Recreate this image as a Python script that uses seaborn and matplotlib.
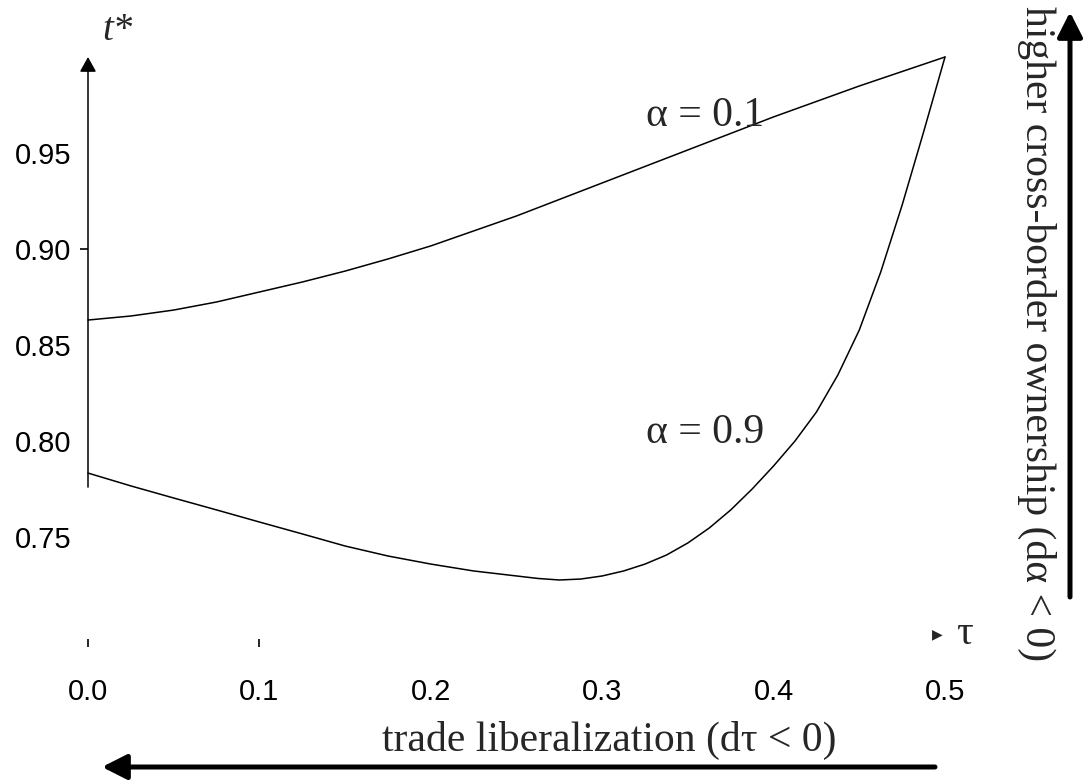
import numpy as np
import pandas as pd
import matplotlib
matplotlib.use("Agg")
import matplotlib.pyplot as plt
import seaborn as sns

# ---- data ----
tau_a01 = [0.0, 0.025, 0.05, 0.075, 0.10, 0.125, 0.15, 0.175, 0.20, 0.25,
           0.30, 0.35, 0.40, 0.45, 0.50]
t_a01 = [0.8630, 0.8651, 0.8682, 0.8724, 0.8776, 0.8828, 0.8885, 0.8948, 0.9016,
         0.9172, 0.9344, 0.9516, 0.9688, 0.9849, 1.000]

tau_a09 = [0.0, 0.025, 0.05, 0.075, 0.10, 0.125, 0.15, 0.175, 0.20, 0.225, 0.25,
           0.2625, 0.275, 0.2875, 0.30, 0.3125, 0.325, 0.3375, 0.35, 0.3625,
           0.375, 0.3875, 0.40, 0.4125, 0.425, 0.4375, 0.45, 0.4625, 0.475,
           0.4875, 0.50]
t_a09 = [0.7833, 0.7766, 0.7703, 0.7641, 0.7578, 0.7516, 0.7453, 0.7401, 0.7359,
         0.7323, 0.7297, 0.7284, 0.7276, 0.7281, 0.7297, 0.7323, 0.7359, 0.7406,
         0.7469, 0.7547, 0.7641, 0.7750, 0.7870, 0.8000, 0.8151, 0.8344, 0.8578,
         0.8880, 0.9229, 0.9609, 1.000]

series_names = ["α = 0.1", "α = 0.9"]
x_ticks = [0.0, 0.1, 0.2, 0.3, 0.4, 0.5]
x_ticklabels = ["0.0", "0.1", "0.2", "0.3", "0.4", "0.5"]
y_ticks = [0.75, 0.80, 0.85, 0.90, 0.95]
y_ticklabels = ["0.75", "0.80", "0.85", "0.90", "0.95"]

df = pd.concat([
    pd.DataFrame({"tau": tau_a01, "t": t_a01, "alpha": series_names[0]}),
    pd.DataFrame({"tau": tau_a09, "t": t_a09, "alpha": series_names[1]}),
], ignore_index=True)

sns.set_theme(style="white")
plt.rcParams["font.family"] = ["Liberation Sans", "DejaVu Sans"]

W, H = 1084, 783
fig = plt.figure(figsize=(W / 100, H / 100), dpi=100)
ax = fig.add_axes([88 / W, 1 - 647 / H, (945 - 88) / W, (647 - 57) / H])

sns.lineplot(data=df, x="tau", y="t", hue="alpha", palette=["black", "black"],
             legend=False, ax=ax, linewidth=1.1, sort=True)
for ln in ax.lines:
    ln.set_clip_on(False)

ax.set_xlim(0.0, 0.5)
ax.set_ylim(0.6927, 1.0)
for s in ax.spines.values():
    s.set_visible(False)
ax.set_xlabel("")
ax.set_ylabel("")

ax.xaxis.remove_overlapping_locs = False
ax.yaxis.remove_overlapping_locs = False
ax.set_xticks(x_ticks)
ax.set_xticklabels(x_ticklabels)
ax.set_yticks(y_ticks)
ax.set_yticklabels(y_ticklabels)
ax.tick_params(axis="x", which="major", length=0, pad=22, labelsize=21, colors="black")
ax.tick_params(axis="y", which="major", length=0, pad=12, labelsize=21, colors="black")
ax.set_xticks([0.0, 0.1], minor=True)
ax.set_yticks([0.90], minor=True)
ax.tick_params(axis="x", which="minor", direction="in", length=6, width=1.2,
               color="black", bottom=True)
ax.tick_params(axis="y", which="minor", direction="out", length=6, width=1.2,
               color="black", left=True)

# y axis with arrow
ax.annotate("", xy=(0.0, 1.0), xytext=(0.0, 0.776), xycoords="data",
            arrowprops=dict(arrowstyle="-|>,head_length=0.45,head_width=0.25",
                            mutation_scale=20, lw=1.1, color="black",
                            shrinkA=0, shrinkB=0), annotation_clip=False)

serif = ["Liberation Serif", "DejaVu Serif"]
# axis symbols
fig.text(117 / W, 1 - 30 / H, "t*", family=serif, style="italic", fontsize=28,
         ha="center", va="center")
ax.text(0.4955, 0.6995, "\u25B6", fontsize=10, ha="center", va="center",
        family=["DejaVu Sans"], clip_on=False)
ax.text(0.5115, 0.6995, "τ", family=serif, fontsize=30, ha="center", va="center",
        clip_on=False)

# curve labels
ax.text(0.3600, 0.9693, series_names[0], family=serif, fontsize=30,
        ha="center", va="center")
ax.text(0.3600, 0.8042, series_names[1], family=serif, fontsize=30,
        ha="center", va="center")

# bottom annotation and arrow
fig.text(609 / W, 1 - 740 / H, "trade liberalization (dτ < 0)", family=serif,
         fontsize=30, ha="center", va="center")
ax.annotate("", xy=(102, H - 767), xytext=(935, H - 767), xycoords="figure pixels",
            textcoords="figure pixels",
            arrowprops=dict(arrowstyle="-|>,head_length=0.75,head_width=0.38",
                            mutation_scale=20, lw=3.6, color="black",
                            shrinkA=0, shrinkB=0), annotation_clip=False)

# right annotation and arrow
fig.text(1037 / W, 1 - 334 / H, "higher cross-border ownership (dα < 0)",
         family=serif, fontsize=30, rotation=270, ha="center", va="center")
ax.annotate("", xy=(1070, H - 12), xytext=(1070, H - 597), xycoords="figure pixels",
            textcoords="figure pixels",
            arrowprops=dict(arrowstyle="-|>,head_length=0.75,head_width=0.38",
                            mutation_scale=20, lw=3.6, color="black",
                            shrinkA=0, shrinkB=0), annotation_clip=False)

fig.savefig("out.png", dpi=100, facecolor="white")
